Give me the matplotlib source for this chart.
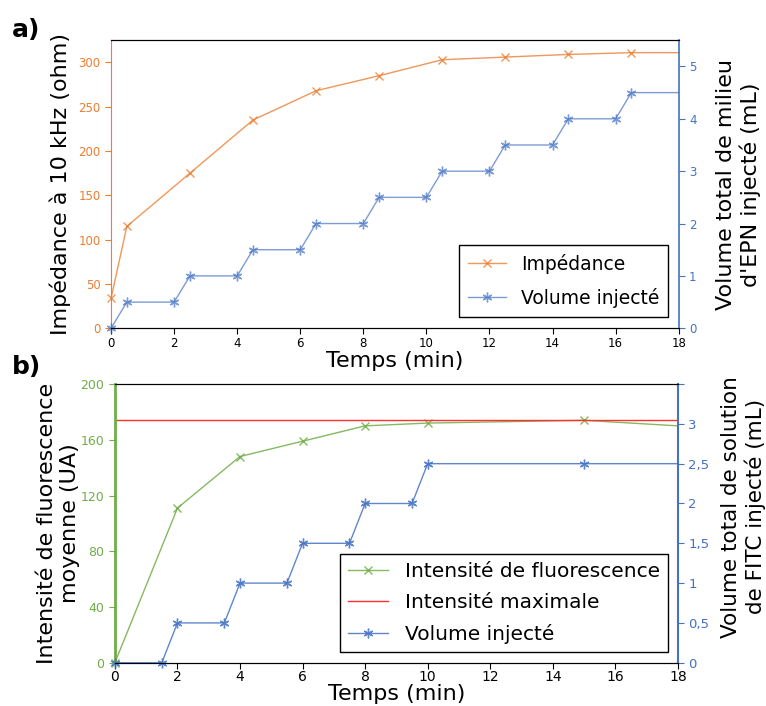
import numpy as np
import matplotlib.pyplot as plt

# a) impedance + injected volume
t_imp = [0, 0.5, 2.5, 4.5, 6.5, 8.5, 10.5, 12.5, 14.5, 16.5, 18]
imp = [34, 115, 175, 235, 268, 285, 303, 306, 309, 311, 311]
t_vol_a = [0, 0.5, 2, 2.5, 4, 4.5, 6, 6.5, 8, 8.5, 10, 10.5, 12, 12.5, 14, 14.5, 16, 16.5, 18]
vol_a = [0, 0.5, 0.5, 1, 1, 1.5, 1.5, 2, 2, 2.5, 2.5, 3, 3, 3.5, 3.5, 4, 4, 4.5, 4.5]

# b) fluorescence + injected volume
t_fluo = [0, 2, 4, 6, 8, 10, 15, 18]
fluo = [0, 111, 148, 159, 170, 172, 174, 170]
fluo_max = 174
t_vol_b = [0, 1.5, 2, 3.5, 4, 5.5, 6, 7.5, 8, 9.5, 10, 15, 18]
vol_b = [0, 0, 0.5, 0.5, 1, 1, 1.5, 1.5, 2, 2, 2.5, 2.5, 2.5]

orange = '#ED7D31'
blue = '#4472C4'
green = '#70AD47'
red = '#FF3030'
star = (6, 2, 0)

fig = plt.figure(figsize=(7.66, 7.06), dpi=100)

# ---------- panel a ----------
ax = fig.add_axes([0.145, 0.535, 0.741, 0.408])
ax2 = ax.twinx()
l1, = ax.plot(t_imp, imp, color=orange, lw=1, alpha=0.8, marker='x', ms=6,
              markevery=list(range(len(t_imp) - 1)), clip_on=False, label='Impédance')
l2, = ax2.plot(t_vol_a, vol_a, color=blue, lw=1, alpha=0.7, marker=star, ms=7,
               markevery=list(range(len(t_vol_a) - 1)), clip_on=False, label='Volume injecté')
ax.set_xlim(0, 18)
ax.set_ylim(0, 325)
ax2.set_ylim(0, 5.5)
ax.set_xticks(np.arange(0, 19, 2))
ax.set_yticks(np.arange(0, 301, 50))
ax2.set_yticks(np.arange(0, 6, 1))
ax.tick_params(axis='x', labelsize=8.5, length=4, colors='black', pad=2.5)
ax.tick_params(axis='y', labelsize=8.5, length=4, colors=orange)
ax2.tick_params(axis='y', labelsize=8.5, length=4, colors=blue)
ax.spines['left'].set_color(orange)
ax2.spines['left'].set_visible(False)
ax2.spines['right'].set_color(blue)
ax2.spines['right'].set_linewidth(1.2)
ax.spines['right'].set_visible(False)
ax.set_xlabel('Temps (min)', fontsize=16)
ax.xaxis.set_label_coords(0.5, -0.078)
ax.set_ylabel('Impédance à 10 kHz (ohm)', fontsize=16)
ax.yaxis.set_label_coords(-0.07, 0.5)
ax2.set_ylabel("Volume total de milieu\nd'EPN injecté (mL)", fontsize=16)
ax2.yaxis.set_label_coords(1.065, 0.5)
leg = ax2.legend(handles=[l1, l2], loc='lower right', bbox_to_anchor=(0.982, 0.038),
                 borderaxespad=0, fontsize=13.5, fancybox=False, edgecolor='black',
                 framealpha=1, labelspacing=0.75, borderpad=0.5)
leg.get_frame().set_linewidth(1)
fig.text(0.015, 0.975, 'a)', fontsize=18, fontweight='bold', va='top')

# ---------- panel b ----------
bx = fig.add_axes([0.150, 0.0613, 0.735, 0.3947])
bx2 = bx.twinx()
g1, = bx.plot(t_fluo, fluo, color=green, lw=1, alpha=0.85, marker='x', ms=6,
              markevery=list(range(len(t_fluo) - 1)), clip_on=False,
              label='Intensité de fluorescence')
g2, = bx.plot([0, 18], [fluo_max, fluo_max], color=red, lw=1, label='Intensité maximale')
g3, = bx2.plot(t_vol_b, vol_b, color=blue, lw=1, alpha=0.85, marker=star, ms=7,
               markevery=list(range(len(t_vol_b) - 1)), clip_on=False, label='Volume injecté')
bx.set_xlim(0, 18)
bx.set_ylim(0, 200)
bx2.set_ylim(0, 3.5)
bx.set_xticks(np.arange(0, 19, 2))
bx.set_yticks(np.arange(0, 201, 40))
vticks = np.arange(0, 3.51, 0.5)
bx2.set_yticks(vticks)
bx2.set_yticklabels([('%g' % v).replace('.', ',') if v < 3.5 else '' for v in vticks])
bx.tick_params(axis='x', labelsize=10, length=4, colors='black', pad=1)
bx.tick_params(axis='y', labelsize=9, length=4, colors=green)
bx2.tick_params(axis='y', labelsize=9.5, length=4, colors=blue)
bx.spines['left'].set_color(green)
bx.spines['left'].set_linewidth(2)
bx2.spines['left'].set_visible(False)
bx.spines['right'].set_visible(False)
bx2.spines['right'].set_color(blue)
bx2.spines['right'].set_linewidth(1.5)
bx.set_xlabel('Temps (min)', fontsize=16)
bx.xaxis.set_label_coords(0.5, -0.076)
bx.set_ylabel('Intensité de fluorescence\nmoyenne (UA)', fontsize=16)
bx.yaxis.set_label_coords(-0.062, 0.5)
bx2.set_ylabel('Volume total de solution\nde FITC injecté (mL)', fontsize=15.5)
bx2.yaxis.set_label_coords(1.076, 0.56)
leg2 = bx2.legend(handles=[g1, g2, g3], loc='lower right', bbox_to_anchor=(0.982, 0.038),
                  borderaxespad=0, fontsize=14.5, fancybox=False, edgecolor='black',
                  framealpha=1, labelspacing=0.6, borderpad=0.4)
leg2.get_frame().set_linewidth(1)
fig.text(0.015, 0.497, 'b)', fontsize=18, fontweight='bold', va='top')

fig.savefig('out.png', dpi=100)
